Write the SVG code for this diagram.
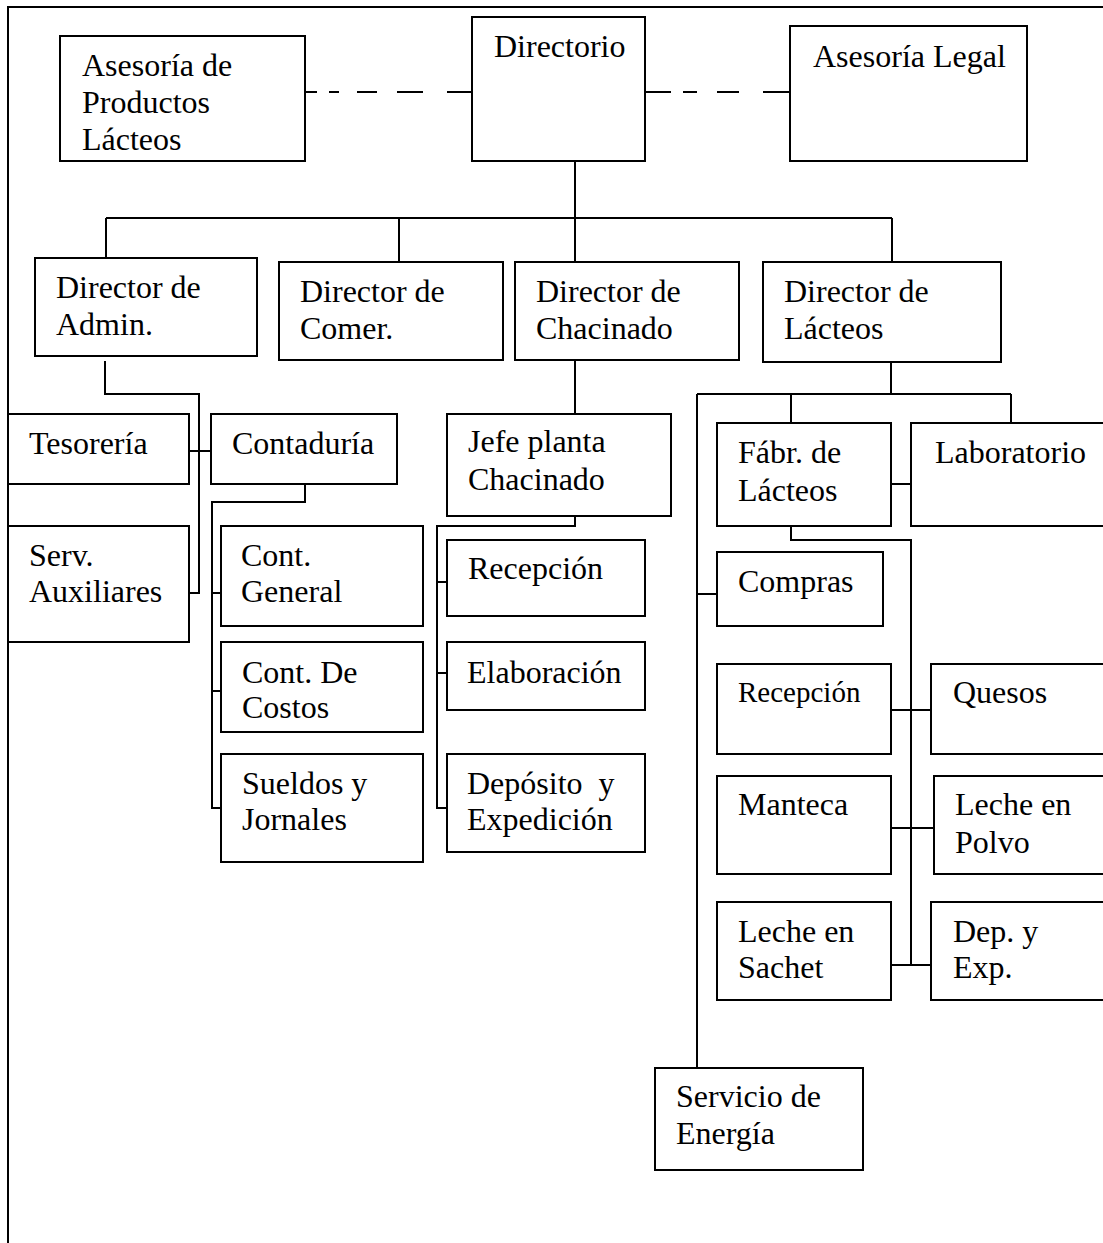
<svg xmlns="http://www.w3.org/2000/svg" width="1103" height="1243" viewBox="0 0 1103 1243">
  <style>
    .box { fill: #ffffff; stroke: #000000; stroke-width: 2; }
    .lbl { font-family: "Liberation Serif", "Times New Roman", serif; font-size: 32px; fill: #000000; white-space: pre; }
    .sm { font-size: 29px; }
    .wire { fill: none; stroke: #000000; stroke-width: 2; }
  </style>
  <rect x="0" y="0" width="1103" height="1243" fill="#ffffff"/>

  <!-- page frame -->
  <path class="wire" d="M8,1243 V7 H1103"/>

  <!-- connectors -->
  <g id="connectors">
    <!-- advisory links (dashed) -->
    <path class="wire" d="M305,92 H317 M329,92 H339 M357,92 H377 M397,92 H423 M447,92 H473"/>
    <path class="wire" d="M645,92 H671 M683,92 H697 M717,92 H739 M763,92 H791"/>
    <!-- board to directors -->
    <path class="wire" d="M575,161 V262 M106,218 H892 M106,218 V258 M399,218 V262 M892,218 V262"/>
    <!-- administration -->
    <path class="wire" d="M105,361 V394 H199 V593 H189 M189,451 H211"/>
    <path class="wire" d="M305,484 V502 H212 V808 H221 M212,593 H221 M212,691 H221"/>
    <!-- cured meats -->
    <path class="wire" d="M575,360 V414 M575,516 V526 H437 V808 H447 M437,582 H447 M437,673 H447"/>
    <!-- dairy -->
    <path class="wire" d="M891,362 V394 M697,394 H1011 M791,394 V423 M1011,394 V423 M697,394 V1068 M697,594 H717 M891,484 H911"/>
    <path class="wire" d="M791,526 V540 H911 V965 M891,710 H931 M891,828 H934 M891,965 H931"/>
  </g>

  <g id="asesoria-productos">
    <rect class="box" x="60" y="36" width="245" height="125"/>
    <text class="lbl" x="82" y="76">Asesoría de</text>
    <text class="lbl" x="82" y="113">Productos</text>
    <text class="lbl" x="82" y="150">Lácteos</text>
  </g>
  <g id="directorio">
    <rect class="box" x="472" y="17" width="173" height="144"/>
    <text class="lbl" x="494" y="57">Directorio</text>
  </g>
  <g id="asesoria-legal">
    <rect class="box" x="790" y="26" width="237" height="135"/>
    <text class="lbl" x="813" y="67">Asesoría Legal</text>
  </g>

  <g id="dir-admin">
    <rect class="box" x="35" y="258" width="222" height="98"/>
    <text class="lbl" x="56" y="298">Director de</text>
    <text class="lbl" x="56" y="335">Admin.</text>
  </g>
  <g id="dir-comer">
    <rect class="box" x="279" y="262" width="224" height="98"/>
    <text class="lbl" x="300" y="302">Director de</text>
    <text class="lbl" x="300" y="339">Comer.</text>
  </g>
  <g id="dir-chacinado">
    <rect class="box" x="515" y="262" width="224" height="98"/>
    <text class="lbl" x="536" y="302">Director de</text>
    <text class="lbl" x="536" y="339">Chacinado</text>
  </g>
  <g id="dir-lacteos">
    <rect class="box" x="763" y="262" width="238" height="100"/>
    <text class="lbl" x="784" y="302">Director de</text>
    <text class="lbl" x="784" y="339">Lácteos</text>
  </g>

  <g id="tesoreria">
    <rect class="box" x="8" y="414" width="181" height="70"/>
    <text class="lbl" x="29" y="454">Tesorería</text>
  </g>
  <g id="contaduria">
    <rect class="box" x="211" y="414" width="186" height="70"/>
    <text class="lbl" x="232" y="454">Contaduría</text>
  </g>
  <g id="serv-auxiliares">
    <rect class="box" x="8" y="526" width="181" height="116"/>
    <text class="lbl" x="29" y="566">Serv.</text>
    <text class="lbl" x="29" y="602">Auxiliares</text>
  </g>
  <g id="cont-general">
    <rect class="box" x="221" y="526" width="202" height="100"/>
    <text class="lbl" x="241" y="566">Cont.</text>
    <text class="lbl" x="241" y="602">General</text>
  </g>
  <g id="cont-costos">
    <rect class="box" x="221" y="642" width="202" height="90"/>
    <text class="lbl" x="242" y="683">Cont. De</text>
    <text class="lbl" x="242" y="718">Costos</text>
  </g>
  <g id="sueldos">
    <rect class="box" x="221" y="754" width="202" height="108"/>
    <text class="lbl" x="242" y="794">Sueldos y</text>
    <text class="lbl" x="242" y="830">Jornales</text>
  </g>

  <g id="jefe-planta">
    <rect class="box" x="447" y="414" width="224" height="102"/>
    <text class="lbl" x="468" y="452">Jefe planta</text>
    <text class="lbl" x="468" y="490">Chacinado</text>
  </g>
  <g id="recepcion-chac">
    <rect class="box" x="447" y="540" width="198" height="76"/>
    <text class="lbl" x="468" y="579">Recepción</text>
  </g>
  <g id="elaboracion">
    <rect class="box" x="447" y="642" width="198" height="68"/>
    <text class="lbl" x="467" y="683">Elaboración</text>
  </g>
  <g id="deposito">
    <rect class="box" x="447" y="754" width="198" height="98"/>
    <text class="lbl" x="467" y="794">Depósito  y</text>
    <text class="lbl" x="467" y="830">Expedición</text>
  </g>

  <g id="fabr-lacteos">
    <rect class="box" x="717" y="423" width="174" height="103"/>
    <text class="lbl" x="738" y="463">Fábr. de</text>
    <text class="lbl" x="738" y="501">Lácteos</text>
  </g>
  <g id="laboratorio">
    <rect class="box" x="911" y="423" width="200" height="103"/>
    <text class="lbl" x="935" y="463">Laboratorio</text>
  </g>
  <g id="compras">
    <rect class="box" x="717" y="552" width="166" height="74"/>
    <text class="lbl" x="738" y="592">Compras</text>
  </g>
  <g id="recepcion-lact">
    <rect class="box" x="717" y="664" width="174" height="90"/>
    <text class="lbl sm" x="738" y="702">Recepción</text>
  </g>
  <g id="quesos">
    <rect class="box" x="931" y="664" width="180" height="90"/>
    <text class="lbl" x="953" y="703">Quesos</text>
  </g>
  <g id="manteca">
    <rect class="box" x="717" y="776" width="174" height="98"/>
    <text class="lbl" x="738" y="815">Manteca</text>
  </g>
  <g id="leche-polvo">
    <rect class="box" x="934" y="776" width="177" height="98"/>
    <text class="lbl" x="955" y="815">Leche en</text>
    <text class="lbl" x="955" y="853">Polvo</text>
  </g>
  <g id="leche-sachet">
    <rect class="box" x="717" y="902" width="174" height="98"/>
    <text class="lbl" x="738" y="942">Leche en</text>
    <text class="lbl" x="738" y="978">Sachet</text>
  </g>
  <g id="dep-exp">
    <rect class="box" x="931" y="902" width="180" height="98"/>
    <text class="lbl" x="953" y="942">Dep. y</text>
    <text class="lbl" x="953" y="978">Exp.</text>
  </g>
  <g id="servicio-energia">
    <rect class="box" x="655" y="1068" width="208" height="102"/>
    <text class="lbl" x="676" y="1107">Servicio de</text>
    <text class="lbl" x="676" y="1144">Energía</text>
  </g>
</svg>
